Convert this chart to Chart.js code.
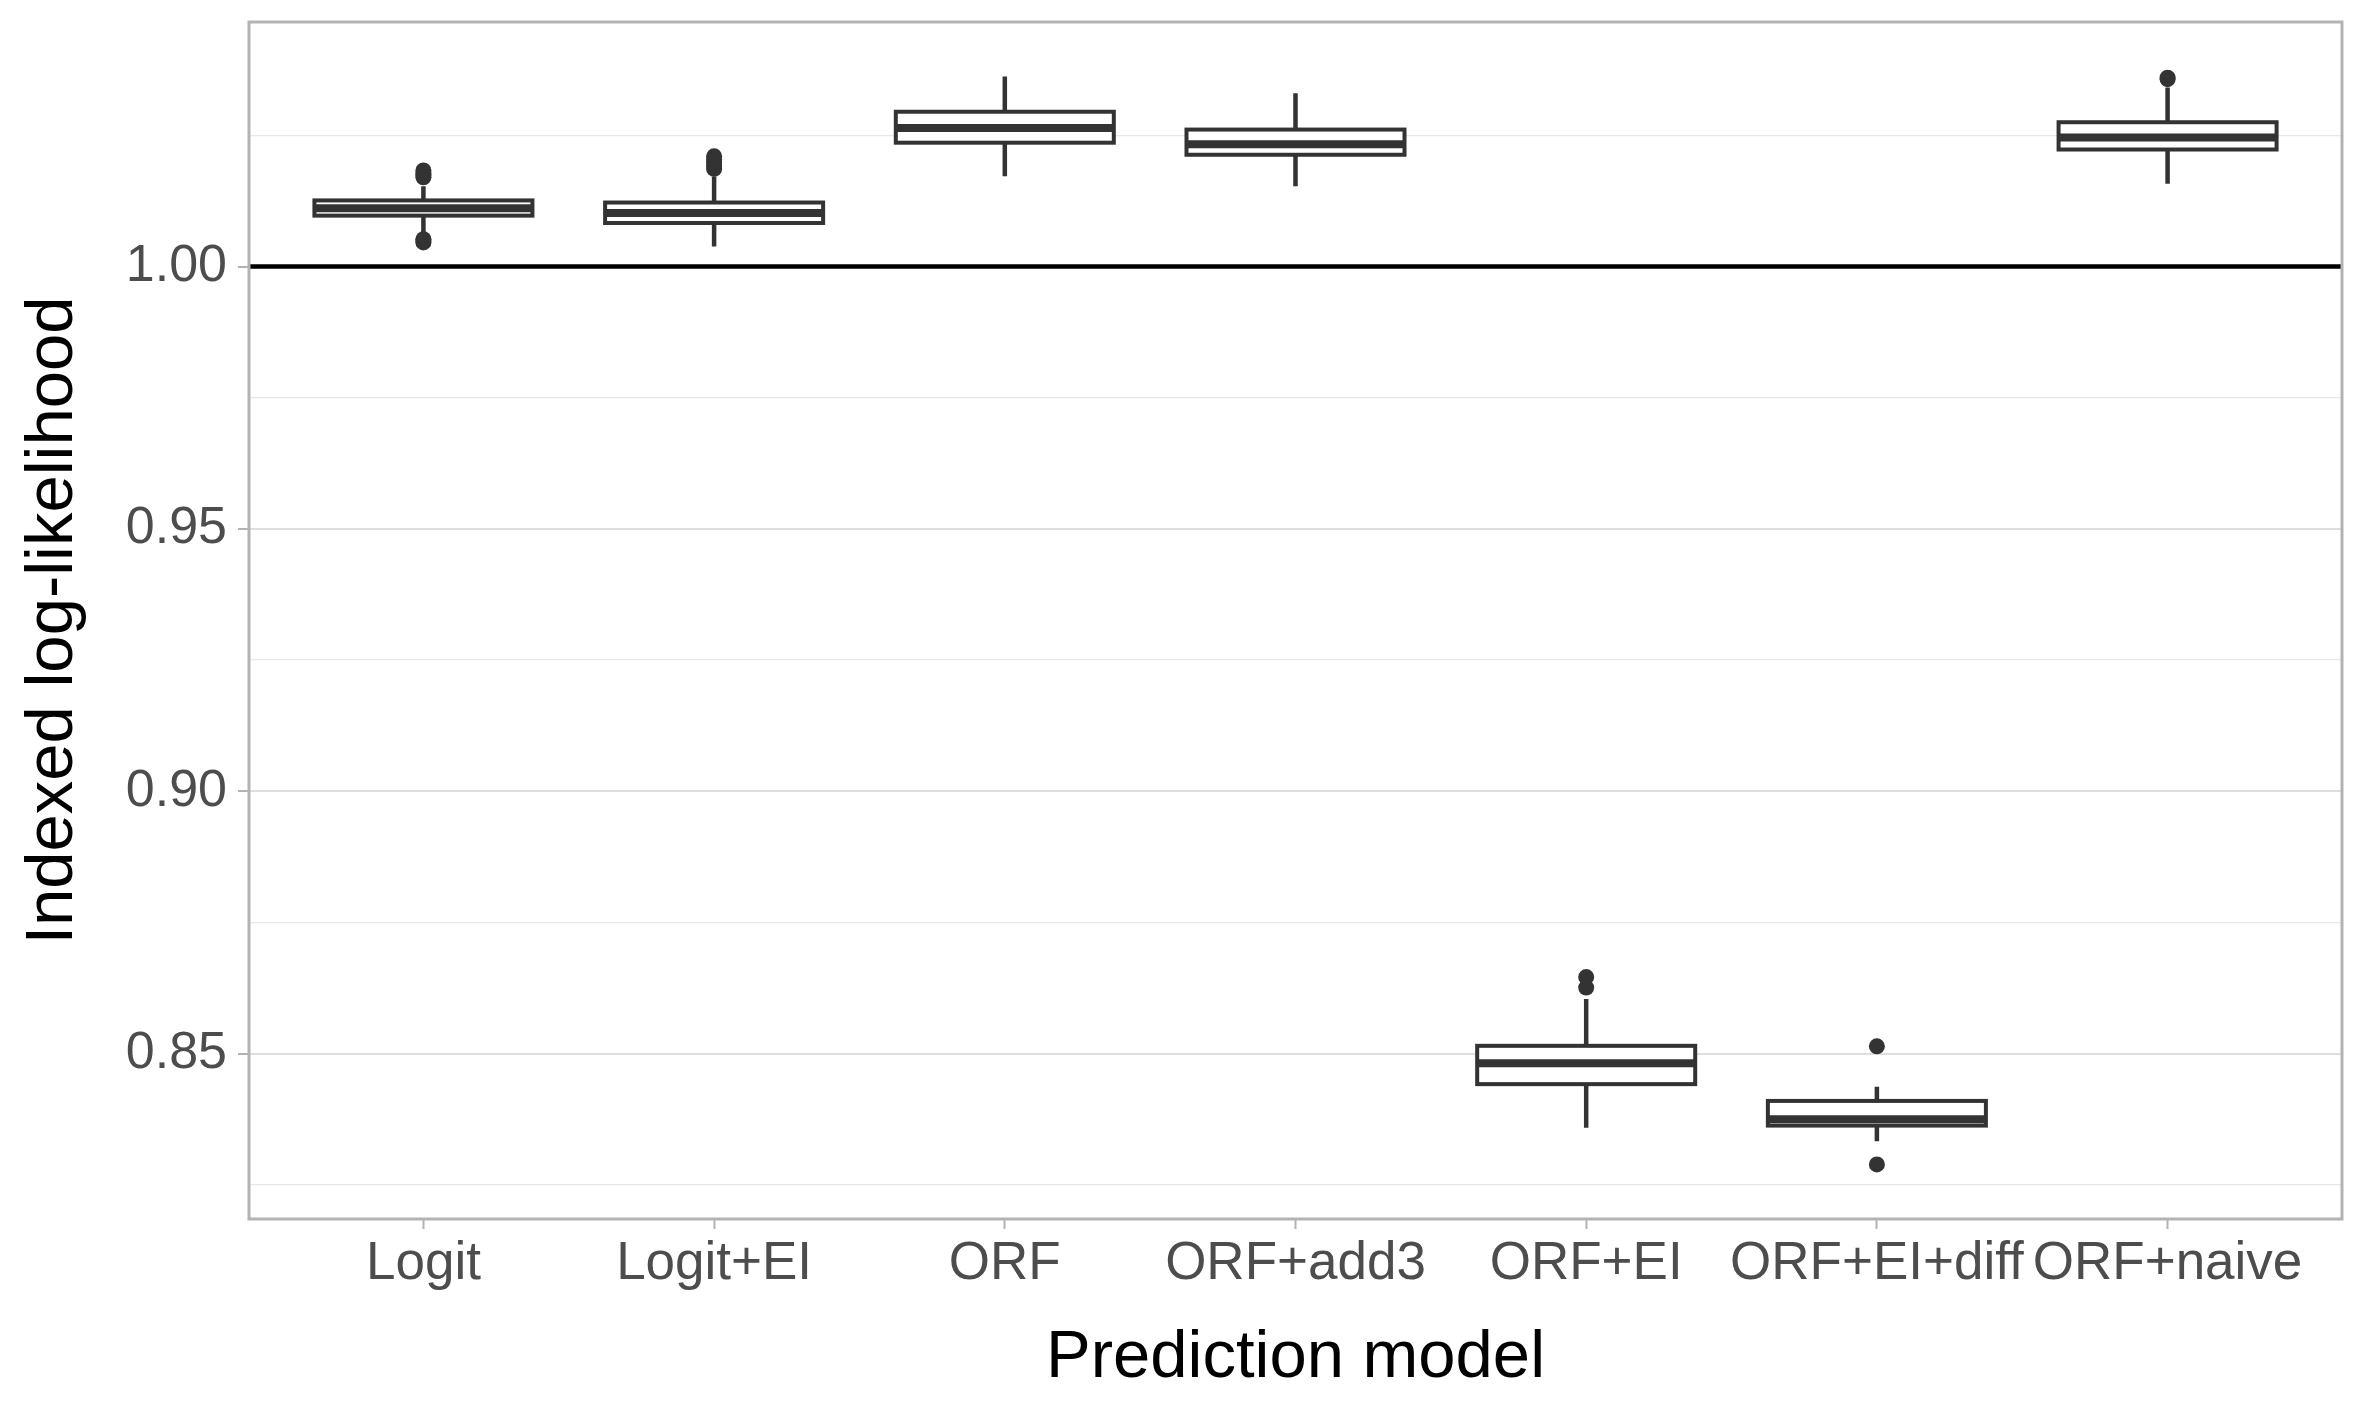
<!DOCTYPE html>
<html>
<head>
<meta charset="utf-8">
<script src="https://cdn.jsdelivr.net/npm/chart.js@4/dist/chart.umd.min.js"></script>
<style>
  body { margin: 0; background: #fff; }
</style>
</head>
<body>
<canvas id="chart" width="2362" height="1417"></canvas>
<script>
const categories = ['Logit', 'Logit+EI', 'ORF', 'ORF+add3', 'ORF+EI', 'ORF+EI+diff', 'ORF+naive'];
const q1 = [1.0097, 1.0083, 1.0236, 1.0213, 0.8442, 0.8363, 1.0223];
const medians = [1.0111, 1.0102, 1.0264, 1.0233, 0.8482, 0.8375, 1.0246];
const q3 = [1.0126, 1.0122, 1.0295, 1.0261, 0.8515, 0.8410, 1.0275];
const whiskerLow = [1.0066, 1.0038, 1.0172, 1.0153, 0.8359, 0.8333, 1.0158];
const whiskerHigh = [1.0153, 1.0171, 1.0362, 1.0330, 0.8604, 0.8437, 1.0341];
// outliers as [category index, value]
const outliers = [
  [0, 1.0170], [0, 1.0174], [0, 1.0178], [0, 1.0183], [0, 1.0046], [0, 1.0049], [0, 1.0052],
  [1, 1.0186], [1, 1.0192], [1, 1.0198], [1, 1.0204], [1, 1.0210],
  [4, 0.8626], [4, 0.8646],
  [5, 0.8514], [5, 0.8289],
  [6, 1.0357], [6, 1.0360],
];
const yTicks = [0.825, 0.85, 0.875, 0.9, 0.925, 0.95, 0.975, 1.0, 1.025];
const referenceValue = 1.0;

const boxColor = '#333333';
const fontFamily = '"Liberation Sans", Arial, sans-serif';
const isMajor = (v) => Math.round(v * 1000) % 50 === 0;

const boxPlugin = {
  id: 'boxParts',
  beforeDatasetsDraw(chart) {
    const { ctx, chartArea, scales: { y } } = chart;
    const py = y.getPixelForValue(referenceValue);
    ctx.save();
    ctx.strokeStyle = '#000000';
    ctx.lineWidth = 4.5;
    ctx.beginPath();
    ctx.moveTo(chartArea.left, py);
    ctx.lineTo(chartArea.right, py);
    ctx.stroke();
    ctx.restore();
  },
  afterDatasetsDraw(chart) {
    const { ctx, scales: { y } } = chart;
    const bars = chart.getDatasetMeta(0).data;
    ctx.save();
    ctx.strokeStyle = boxColor;
    bars.forEach((bar, i) => {
      const half = bar.width / 2;
      const top = y.getPixelForValue(q3[i]);
      const bottom = y.getPixelForValue(q1[i]);
      ctx.lineWidth = 4.5;
      ctx.beginPath();
      ctx.moveTo(bar.x, top);
      ctx.lineTo(bar.x, y.getPixelForValue(whiskerHigh[i]));
      ctx.moveTo(bar.x, bottom);
      ctx.lineTo(bar.x, y.getPixelForValue(whiskerLow[i]));
      ctx.stroke();
      ctx.lineWidth = 4;
      ctx.strokeRect(bar.x - half, top, half * 2, bottom - top);
      ctx.lineWidth = 8;
      ctx.beginPath();
      ctx.moveTo(bar.x - half, y.getPixelForValue(medians[i]));
      ctx.lineTo(bar.x + half, y.getPixelForValue(medians[i]));
      ctx.stroke();
    });
    ctx.restore();
  },
  afterDraw(chart) {
    const { ctx, chartArea } = chart;
    ctx.save();
    ctx.strokeStyle = '#b3b3b3';
    ctx.lineWidth = 3;
    ctx.strokeRect(chartArea.left, chartArea.top, chartArea.right - chartArea.left, chartArea.bottom - chartArea.top);
    ctx.restore();
  },
};

new Chart(document.getElementById('chart'), {
  type: 'bar',
  data: {
    datasets: [
      {
        data: categories.map((c, i) => ({ x: i, y: [q1[i], q3[i]] })),
        backgroundColor: '#ffffff',
        borderWidth: 0,
        categoryPercentage: 1,
        barPercentage: 0.75,
        order: 1,
      },
      {
        type: 'scatter',
        data: outliers.map(([i, v]) => ({ x: i, y: v })),
        pointRadius: 8,
        pointBackgroundColor: boxColor,
        pointBorderColor: boxColor,
        pointBorderWidth: 0,
        showLine: false,
        order: 0,
      },
    ],
  },
  options: {
    responsive: false,
    devicePixelRatio: 1,
    animation: false,
    layout: { padding: { top: 22, right: 20, bottom: 0, left: 0 } },
    plugins: { legend: { display: false }, tooltip: { enabled: false } },
    scales: {
      x: {
        type: 'linear',
        min: -0.6,
        max: 6.6,
        offset: false,
        afterBuildTicks: (scale) => { scale.ticks = categories.map((c, i) => ({ value: i })); },
        afterFit: (scale) => { scale.height = 198; scale.paddingLeft = 0; scale.paddingRight = 0; },
        grid: { display: true, drawOnChartArea: false, offset: false, tickLength: 10, tickColor: '#b3b3b3', tickWidth: 2 },
        border: { display: false },
        ticks: {
          autoSkip: false,
          maxRotation: 0,
          padding: 4,
          color: '#4d4d4d',
          font: { family: fontFamily, size: 53 },
          callback: (v) => categories[v],
        },
        title: {
          display: true,
          text: 'Prediction model',
          color: '#000000',
          padding: { top: 0, bottom: 18 },
          font: { family: fontFamily, size: 67 },
        },
      },
      y: {
        min: 0.8185,
        max: 1.0466,
        afterBuildTicks: (scale) => { scale.ticks = yTicks.map((v) => ({ value: v })); },
        afterFit: (scale) => { scale.width = 249; scale.paddingTop = 0; scale.paddingBottom = 0; },
        grid: {
          color: (ctx) => (isMajor(ctx.tick.value) ? '#dedede' : '#e8e8e8'),
          lineWidth: (ctx) => (isMajor(ctx.tick.value) ? 2 : 1.3),
          tickColor: (ctx) => (isMajor(ctx.tick.value) ? '#b3b3b3' : 'rgba(0,0,0,0)'),
          tickLength: 11,
          tickWidth: 2,
        },
        border: { display: false },
        ticks: {
          autoSkip: false,
          padding: 11,
          color: '#4d4d4d',
          font: { family: fontFamily, size: 52 },
          callback: (v) => (isMajor(v) ? v.toFixed(2) : ''),
        },
        title: {
          display: true,
          text: 'Indexed log-likelihood',
          color: '#000000',
          padding: { top: 13, bottom: 0 },
          font: { family: fontFamily, size: 67 },
        },
      },
    },
  },
  plugins: [boxPlugin],
});
</script>
</body>
</html>
